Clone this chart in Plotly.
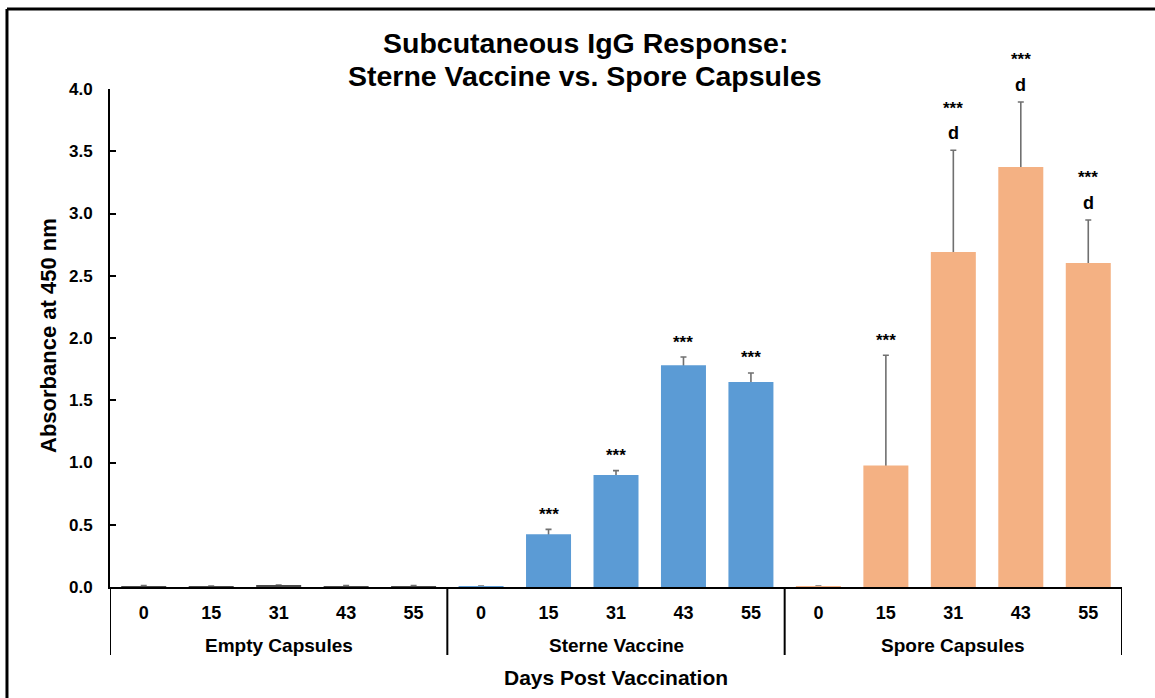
import plotly.graph_objects as go

# ---- data -------------------------------------------------------------
groups = ["Empty Capsules", "Sterne Vaccine", "Spore Capsules"]
days = ["0", "15", "31", "43", "55"]

empty_vals = [0.008, 0.005, 0.010, 0.008, 0.008]
empty_err = [0.003, 0.003, 0.005, 0.003, 0.003]

sterne_vals = [0.002, 0.423, 0.900, 1.781, 1.647]
sterne_err = [0.006, 0.040, 0.035, 0.066, 0.072]

spore_vals = [0.002, 0.975, 2.691, 3.373, 2.602]
spore_err = [0.006, 0.886, 0.817, 0.523, 0.346]

sterne_sig = ["", "***", "***", "***", "***"]
spore_sig = ["", "***", "***", "***", "***"]
spore_letter = ["", "", "d", "d", "d"]

y_ticks = [0.0, 0.5, 1.0, 1.5, 2.0, 2.5, 3.0, 3.5, 4.0]

title_lines = ["Subcutaneous IgG Response:", "Sterne Vaccine vs. Spore Capsules"]

# ---- styling ----------------------------------------------------------
FONT = "Liberation Sans, Arial, Helvetica, sans-serif"
colors = ["#4a4a4a", "#5B9BD5", "#F4B183"]
ERR_COLOR = "#707070"
BAR_W = 0.667

series = [
    (empty_vals, empty_err),
    (sterne_vals, sterne_err),
    (spore_vals, spore_err),
]

fig = go.Figure()
n = len(days)

# error whiskers first (on transparent bars) so the coloured bars cover
# the lower end of each whisker and only the upper part shows
for g, (vals, errs) in enumerate(series):
    xs = [g * n + i for i in range(n)]
    fig.add_trace(go.Bar(
        x=xs, y=vals, width=BAR_W,
        marker=dict(color="rgba(0,0,0,0)", line=dict(width=0)),
        error_y=dict(type="data", symmetric=False, array=errs,
                     arrayminus=vals, color=ERR_COLOR,
                     thickness=1.6, width=3),
        showlegend=False, hoverinfo="skip",
    ))
for g, (vals, errs) in enumerate(series):
    xs = [g * n + i for i in range(n)]
    fig.add_trace(go.Bar(
        x=xs, y=vals, width=BAR_W,
        marker=dict(color=colors[g], line=dict(width=0)),
        name=groups[g], showlegend=False,
    ))

annotations = []


def add_label(x, y, text, size, yshift):
    annotations.append(dict(
        x=x, y=y, xref="x", yref="y", text=f"<b>{text}</b>",
        showarrow=False, yanchor="middle", yshift=yshift,
        font=dict(family=FONT, size=size, color="black"),
    ))


# significance marks above the error bars
for i in range(n):
    if sterne_sig[i]:
        add_label(n + i, sterne_vals[i] + sterne_err[i], sterne_sig[i], 17, 15)
for i in range(n):
    top = spore_vals[i] + spore_err[i]
    if spore_letter[i]:
        add_label(2 * n + i, top, spore_letter[i], 18, 17)
        if spore_sig[i]:
            add_label(2 * n + i, top, spore_sig[i], 17, 42)
    elif spore_sig[i]:
        add_label(2 * n + i, top, spore_sig[i], 17, 15)

# group labels under the day labels
for g, name in enumerate(groups):
    annotations.append(dict(
        x=g * n + (n - 1) / 2, y=-0.1165, xref="x", yref="paper",
        text=f"<b>{name}</b>", showarrow=False, yanchor="middle",
        font=dict(family=FONT, size=19, color="black"),
    ))

# two-line chart title
for k, line in enumerate(title_lines):
    annotations.append(dict(
        x=0.4694, y=1.0924 - k * 0.0655, xref="paper", yref="paper",
        text=f"<b>{line}</b>", showarrow=False,
        xanchor="center", yanchor="middle",
        font=dict(family=FONT, size=28.5, color="black"),
    ))

# axis titles
annotations.append(dict(
    x=0.5, y=-0.1827, xref="paper", yref="paper",
    text="<b>Days Post Vaccination</b>", showarrow=False, yanchor="middle",
    font=dict(family=FONT, size=21, color="black"),
))
annotations.append(dict(
    x=-0.0613, y=0.506, xref="paper", yref="paper", textangle=-90,
    text="<b>Absorbance at 450 nm</b>", showarrow=False,
    xanchor="center", yanchor="middle",
    font=dict(family=FONT, size=22, color="black"),
))

shapes = []
# group dividers below the category axis
for b in range(len(groups) + 1):
    shapes.append(dict(
        type="line", xref="x", yref="paper",
        x0=b * n - 0.5, x1=b * n - 0.5, y0=0, y1=-0.1365,
        line=dict(color="black", width=2),
    ))
# outer frame: top and left edges
shapes.append(dict(
    type="line", xref="paper", yref="paper",
    x0=-0.1018, x1=1.1, y0=1.1606, y1=1.1606,
    line=dict(color="black", width=3),
))
shapes.append(dict(
    type="line", xref="paper", yref="paper",
    x0=-0.1018, x1=-0.1018, y0=-0.3, y1=1.1606,
    line=dict(color="black", width=3),
))

fig.update_layout(
    width=1155, height=698,
    margin=dict(l=110, r=33, t=89, b=111),
    paper_bgcolor="white", plot_bgcolor="white",
    barmode="overlay",
    annotations=annotations,
    shapes=shapes,
    font=dict(family=FONT, color="black"),
)

fig.update_xaxes(
    range=[-0.5, len(groups) * n - 0.5],
    tickvals=list(range(len(groups) * n)),
    ticktext=[f"<b>{d}</b>" for d in days] * len(groups),
    tickfont=dict(family=FONT, size=18, color="black"),
    ticks="", ticklabelstandoff=8,
    showline=True, linecolor="black", linewidth=2,
    showgrid=False, zeroline=False,
)
fig.update_yaxes(
    range=[0, 4.0],
    tickvals=y_ticks,
    ticktext=[f"<b>{v:.1f}</b>" for v in y_ticks],
    tickfont=dict(family=FONT, size=17, color="black"),
    ticks="inside", ticklen=6, tickwidth=2, tickcolor="black",
    ticklabelstandoff=12,
    showline=True, linecolor="black", linewidth=2,
    showgrid=False, zeroline=False,
)

fig.write_html("out.html")
